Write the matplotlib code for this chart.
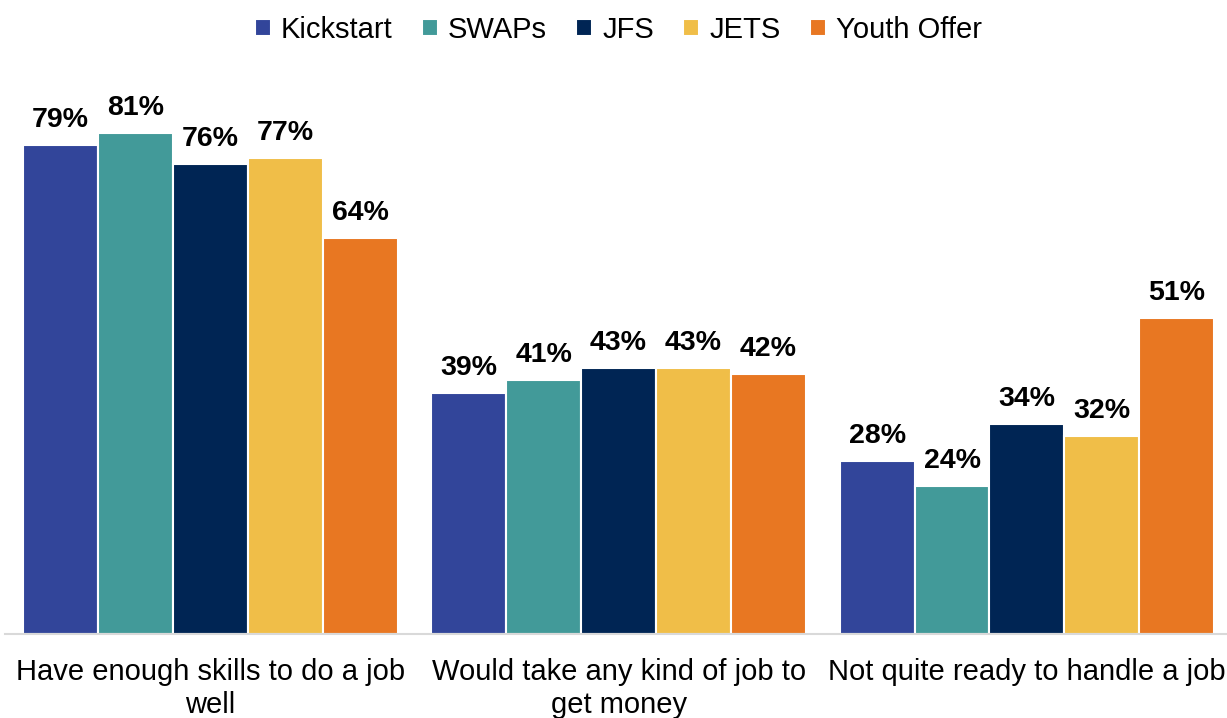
import matplotlib
matplotlib.use("Agg")
import matplotlib.pyplot as plt
import numpy as np

plt.rcParams['font.family'] = ['Liberation Sans', 'DejaVu Sans']

categories = ["Have enough skills to do a job\nwell",
              "Would take any kind of job to\nget money",
              "Not quite ready to handle a job"]
series = ["Kickstart", "SWAPs", "JFS", "JETS", "Youth Offer"]
kickstart = [79, 39, 28]
swaps = [81, 41, 24]
jfs = [76, 43, 34]
jets = [77, 43, 32]
youth_offer = [64, 42, 51]
values = [kickstart, swaps, jfs, jets, youth_offer]
colors = ["#32459A", "#429A99", "#002554", "#F0BE48", "#E87722"]

fig = plt.figure(figsize=(12.27, 7.18), dpi=100)
ax = fig.add_axes([0.004, 0.117, 0.996, 0.772])

x = np.arange(len(categories))
width = 0.1834
for i, (name, vals, col) in enumerate(zip(series, values, colors)):
    pos = x + (i - 2) * width
    ax.bar(pos, vals, width, color=col, edgecolor="white", linewidth=1.5, label=name)
    for px, v in zip(pos, vals):
        ax.annotate(f"{v}%", (px, v), xytext=(0, 18), textcoords="offset points",
                    ha="center", va="center", fontsize=20.5, fontweight="bold", color="#000000")

ax.set_xlim(-0.503, 2.49)
ax.set_ylim(0, 89.6)
ax.set_xticks(x)
ax.set_xticklabels(categories, fontsize=21, linespacing=1.25)
ax.tick_params(axis="x", length=0, pad=17)
ax.set_yticks([])
for s in ["top", "right", "left"]:
    ax.spines[s].set_visible(False)
ax.spines["bottom"].set_color("#D9D9D9")
ax.spines["bottom"].set_linewidth(1.5)

fig.legend(loc="upper center", bbox_to_anchor=(0.504, 0.994), ncol=5, frameon=False,
           fontsize=21, handlelength=0.55, handleheight=0.55, handletextpad=0.35,
           columnspacing=1.0, borderaxespad=0.0)

fig.savefig("out.png", dpi=100)
